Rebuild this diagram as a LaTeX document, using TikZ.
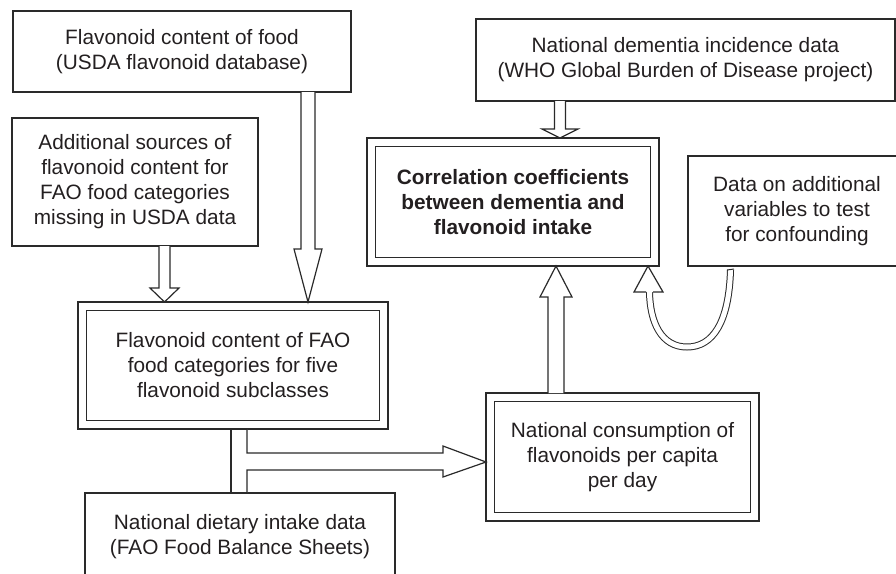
\documentclass[tikz,border=0pt]{standalone}
\usepackage{fontspec}
\setmainfont{Liberation Sans}
\usetikzlibrary{calc}
\definecolor{ink}{HTML}{2A2A2A}
\definecolor{txt}{HTML}{231F20}
\tikzset{
  box/.style={draw=ink, line width=1.2pt, rectangle, inner sep=0pt, outer sep=0pt,
    align=center, text=txt, font=\fontsize{20.8}{25}\selectfont},
  dbox/.style={box, double=white, double distance=7.6pt, outer sep=4.4pt},
  blk/.style={draw=ink, line width=1.2pt, fill=white, line join=miter},
  curvy/.style={draw=ink, line width=1pt, double=white, double distance=5pt},
}
% vertical block arrow: #1 x, #2 source anchor, #3 target anchor,
% #4 shaft half width, #5 head half width, #6 offset of head base from tip
\newcommand\vblock[6]{%
  \coordinate (vbS) at (#1,0 |- #2);
  \coordinate (vbT) at (#1,0 |- #3);
  \draw[blk] ($(vbS)+(-#4,0)$) -- ($(vbT)+(-#4,#6)$) -- ($(vbT)+(-#5,#6)$) -- (vbT)
    -- ($(vbT)+(#5,#6)$) -- ($(vbT)+(#4,#6)$) -- ($(vbS)+(#4,0)$);
}
\begin{document}
\begin{tikzpicture}[x=1pt,y=-1pt]
\useasboundingbox (0,0) rectangle (896,573);
\clip (0,0) rectangle (896,573);

\node[box, minimum width=338, minimum height=81] (food) at (182,51.5)
  {Flavonoid content of food\\(USDA flavonoid database)};
\node[box, minimum width=246, minimum height=128] (addl) at (135,182)
  {Additional sources of\\flavonoid content for\\FAO food categories\\missing in USDA data};
\node[dbox, minimum width=301.2, minimum height=118.2] (fao) at (233,365.5)
  {Flavonoid content of FAO\\food categories for five\\flavonoid subclasses};
\node[box, minimum width=310, minimum height=88] (diet) at (240,537)
  {National dietary intake data\\(FAO Food Balance Sheets)};
\node[box, minimum width=419, minimum height=82] (who) at (685.5,60)
  {National dementia incidence data\\(WHO Global Burden of Disease project)};
\node[dbox, minimum width=283.2, minimum height=119.2] (corr) at (513,202)
  {\bfseries Correlation coefficients\\\bfseries between dementia and\\\bfseries flavonoid intake};
\node[box, minimum width=218, minimum height=110] (conf) at (797,211)
  {Data on additional\\variables to test\\for confounding};
\node[dbox, minimum width=264.2, minimum height=119.2] (cons) at (622.5,457)
  {National consumption of\\flavonoids per capita\\per day};

% straight block arrows
\vblock{308}{food.south}{fao.north}{7}{14}{-53}
\vblock{164.5}{addl.south}{fao.north}{5.5}{14.5}{-14}
\vblock{560}{who.south}{corr.north}{5.5}{18}{-9}
\vblock{556}{cons.north}{corr.south}{8}{16}{31}

% T-shaped arrow
\draw[blk, fill=none] (231,0 |- fao.south) -- (231,0 |- diet.north);
\draw[blk] (247,0 |- fao.south) -- (247,453) -- (443,453) -- (443,446)
  -- (cons.west |- 0,462) -- (443,477) -- (443,470) -- (247,470) -- (247,0 |- diet.north);

% curved arrow
\coordinate (cs) at ($(conf.south west)+(42.5,4)$);
\coordinate (ct) at (648,0 |- corr.south);
\draw[curvy] (cs) .. controls (729,322) and (713,347) .. (687,347)
  .. controls (661,347) and (650,322) .. (649.5,292);
\draw[ink, line width=1pt] ($(cs)+(-3.5,0)$) -- ($(cs)+(3.5,-1)$);
\draw[blk] (646,292) -- (634,292) -- (ct) -- (663,292) -- (653,292);
\end{tikzpicture}
\end{document}
